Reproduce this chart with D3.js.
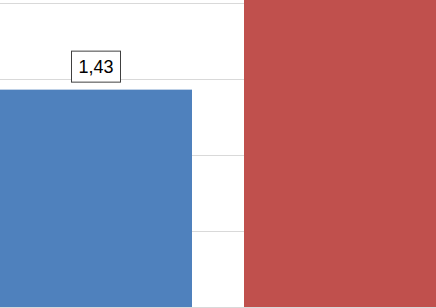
<!DOCTYPE html>
<html>
<head>
<meta charset="utf-8">
<script src="https://cdn.jsdelivr.net/npm/d3@7"></script>
<style>
  html, body { margin: 0; padding: 0; background: #fff; }
  svg { display: block; }
</style>
</head>
<body>
<div id="chart"></div>
<script>
// Data (chart is cropped: the red bar runs off the top)
const categories = ['A', 'B'];
const values = [1.43, 2.1];
const labels = ['1,43', null];
const gridTicks = [0, 0.5, 1, 1.5, 2];
const colors = ['#4F81BD', '#C0504D'];

const W = 436, H = 308;

const svg = d3.select('#chart').append('svg')
  .attr('width', W)
  .attr('height', H);

const x = d3.scaleBand()
  .domain(categories)
  .range([0, W])
  .paddingInner(52 / 244)
  .paddingOuter(0);

const y = d3.scaleLinear().domain([0, 2]).range([307, 3]);

// Gridlines
svg.append('g')
  .selectAll('line')
  .data(gridTicks)
  .join('line')
  .attr('x1', 0)
  .attr('x2', W)
  .attr('y1', d => Math.round(y(d)) + 0.5)
  .attr('y2', d => Math.round(y(d)) + 0.5)
  .attr('stroke', '#d9d9d9')
  .attr('stroke-width', 1);

// Bars
svg.append('g')
  .selectAll('rect')
  .data(categories)
  .join('rect')
  .attr('x', d => x(d))
  .attr('y', (d, i) => y(values[i]))
  .attr('width', x.bandwidth())
  .attr('height', (d, i) => y(0) - y(values[i]))
  .attr('fill', (d, i) => colors[i]);

// Data label
categories.forEach((c, i) => {
  if (!labels[i]) return;
  const cx = x(c) + x.bandwidth() / 2;
  const top = y(values[i]);
  const g = svg.append('g');
  g.append('rect')
    .attr('x', cx - 24.5)
    .attr('y', top - 38.5)
    .attr('width', 49)
    .attr('height', 31)
    .attr('fill', '#fff')
    .attr('stroke', '#404040')
    .attr('stroke-width', 1);
  g.append('text')
    .attr('x', cx)
    .attr('y', top - 23)
    .attr('dy', '0.35em')
    .attr('text-anchor', 'middle')
    .attr('font-family', 'Liberation Sans, Arial, sans-serif')
    .attr('font-size', 18)
    .attr('fill', '#000')
    .text(labels[i]);
});
</script>
</body>
</html>
